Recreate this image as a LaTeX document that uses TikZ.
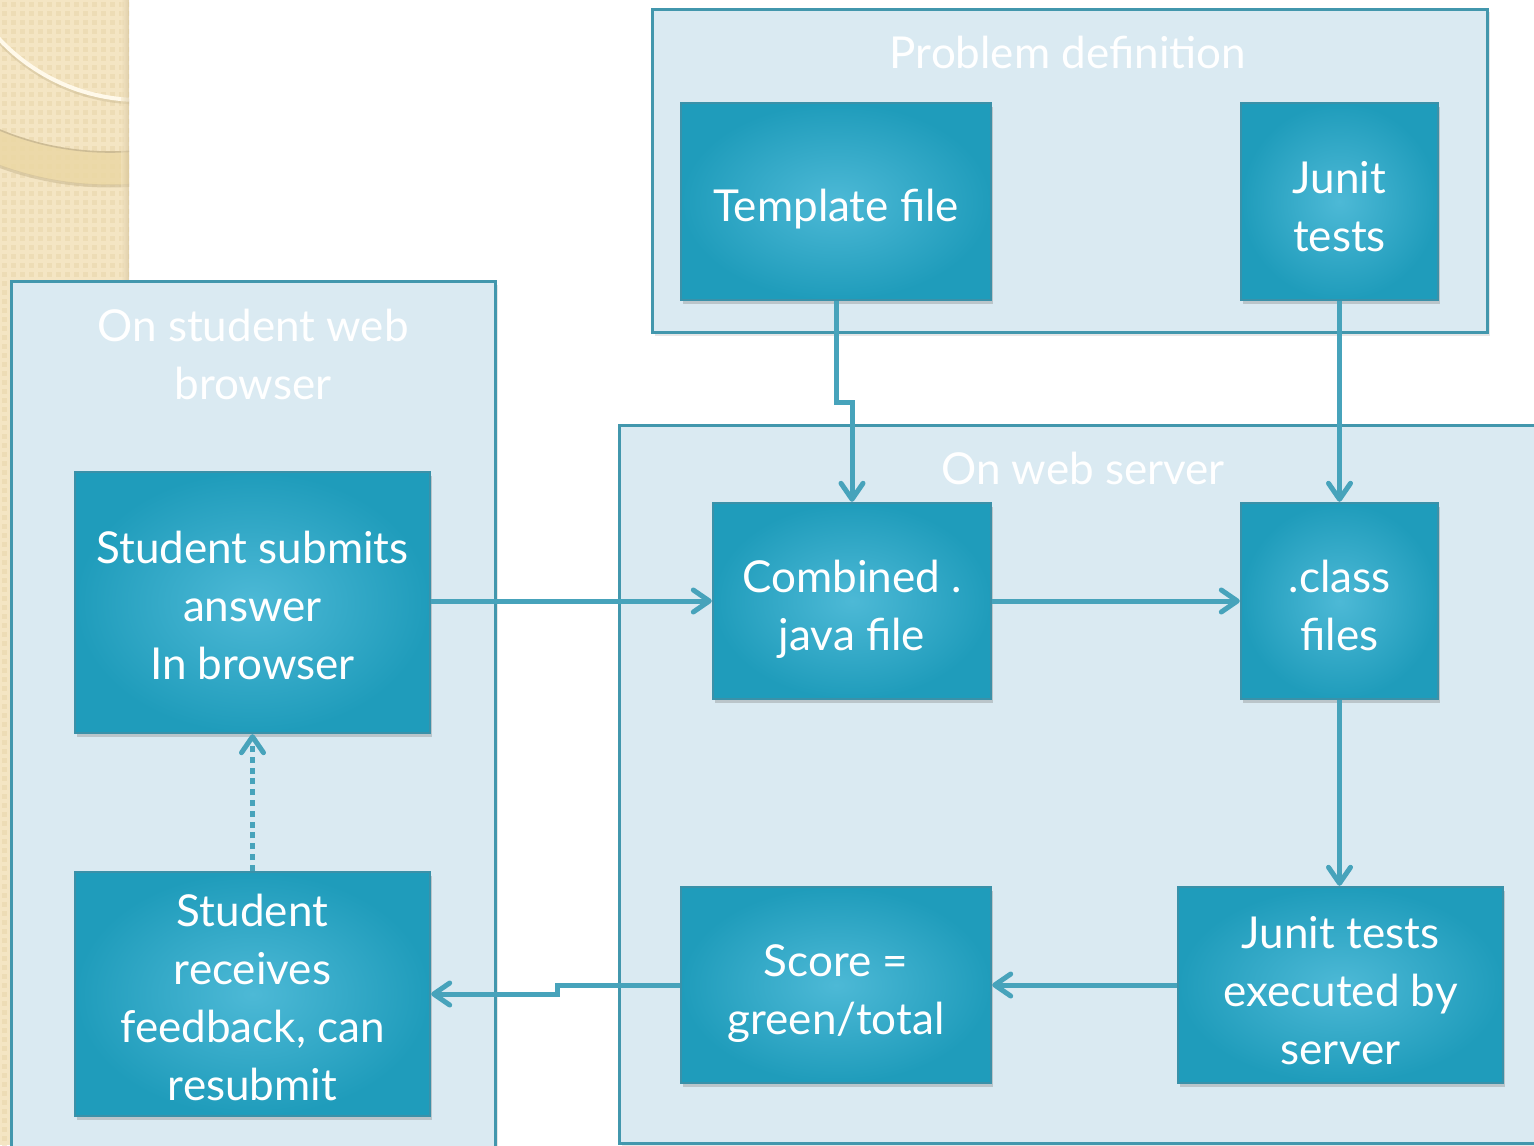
\documentclass[tikz,border=0pt]{standalone}
\usepackage{fontspec}
\setmainfont{Lato}
\usetikzlibrary{arrows.meta,shadows}

\definecolor{stripbg}{HTML}{F4E5C3}
\definecolor{stripdot}{HTML}{E9D6AB}
\definecolor{ringband}{HTML}{EBD7A3}
\definecolor{ringedge}{HTML}{CDBC95}
\definecolor{ringlight}{HTML}{FFF9EA}
\definecolor{grpfill}{HTML}{DAEAF2}
\definecolor{grpline}{HTML}{4297AD}
\definecolor{boxin}{HTML}{4DB9D6}
\definecolor{boxout}{HTML}{1F9CBB}
\definecolor{boxline}{HTML}{3A91A9}
\definecolor{arrcol}{HTML}{47A3BB}

% centred lines of box text, set a little below the geometric middle
\newcommand\boxlines[2][3pt]{%
  \raisebox{-#1}[\height][\depth]{\begin{tabular}{@{}c@{}}#2\end{tabular}}}

\tikzset{
  group/.style={draw=grpline, line width=1.5pt, fill=grpfill, anchor=north west,
    inner sep=0pt, drop shadow={opacity=0.2, shadow xshift=1pt, shadow yshift=-1.5pt}},
  gtitle/.style={text=white, align=center, font=\fontsize{22}{29}\selectfont},
  tbox/.style={draw=boxline, line width=1.2pt, inner color=boxin, outer color=boxout,
    text=white, inner sep=0pt, font=\fontsize{22}{29}\selectfont,
    drop shadow={opacity=0.35, shadow xshift=1pt, shadow yshift=-2pt}},
  conn/.style={draw=arrcol, line width=2.5pt,
    -{Straight Barb[length=8pt, width=11pt, line cap=round, line join=round]}},
  dotconn/.style={conn, dash pattern=on 3pt off 2.4pt},
}

\begin{document}
\begin{tikzpicture}[x=0.5pt, y=-0.5pt]
\useasboundingbox (0,0) rectangle (1534,1145);

% decorative beige strip on the left edge
\begin{scope}
  \clip (0,0) rectangle (129,1145);
  \fill[stripbg] (0,0) rectangle (129,1145);
  \foreach \i in {0,...,14}
    \foreach \j in {0,...,127}
      \fill[stripdot, opacity=0.55] (\i*9+2, \j*9+2) rectangle ++(5,5);
  % wide ring band
  \fill[ringband, opacity=0.8, even odd rule]
    (110,-134) circle[radius=319] (110,-134) circle[radius=286];
  \draw[ringedge, line width=0.8pt] (110,-134) circle[radius=286];
  \draw[ringedge, opacity=0.6, line width=1.5pt] (110,-134) circle[radius=320];
  % thin light ring
  \draw[ringedge, opacity=0.5, line width=2.5pt] (140,-91) circle[radius=193];
  \draw[ringlight, line width=2pt] (140,-93) circle[radius=193];
  % soft shade along the right edge of the strip
  \shade[left color=stripbg, right color=ringedge, opacity=0.5] (121,0) rectangle (129,1145);
\end{scope}

% group frames
\node[group, minimum width=417.5pt, minimum height=161.5pt] (pdef) at (651,8) {};
\node[group, minimum width=242pt, minimum height=450pt] (client) at (10,280) {};
\node[group, minimum width=466pt, minimum height=359pt] (server) at (618,424) {};

\node[gtitle] (pdeft) at (1068,52) {Problem definition};
\node[gtitle] (clientt) at (253,354) {On student web\\browser};
\node[gtitle] (servert) at (1083,468) {On web server};

% process boxes
\node[tbox, minimum width=155pt, minimum height=98.5pt] (tpl) at (836,201.5) {\boxlines[4pt]{Template file}};
\node[tbox, minimum width=98.5pt, minimum height=98.5pt] (jut) at (1339.5,201.5) {\boxlines[4.5pt]{Junit\\tests}};
\node[tbox, minimum width=177.5pt, minimum height=130.5pt] (sub) at (252.5,602.5) {\boxlines[3.5pt]{Student submits\\answer\\In browser}};
\node[tbox, minimum width=139pt, minimum height=98pt] (cmb) at (852,601) {\boxlines[4.5pt]{Combined .\\java file}};
\node[tbox, minimum width=98.5pt, minimum height=98pt] (cls) at (1339.5,601) {\boxlines[4.5pt]{.class\\files}};
\node[tbox, minimum width=177.5pt, minimum height=122pt] (rcv) at (252.5,994) {\boxlines[4pt]{Student\\receives\\feedback, can\\resubmit}};
\node[tbox, minimum width=155pt, minimum height=98pt] (sco) at (836,985) {\boxlines[4.5pt]{Score =\\green/total}};
\node[tbox, minimum width=162.5pt, minimum height=98pt] (exe) at (1340.5,985) {\boxlines[5pt]{Junit tests\\executed by\\server}};

% connectors
\coordinate (bendA) at (0,402);
\coordinate (bendB) at (557,0);
\draw[conn] (tpl.south) -- (tpl.south |- bendA) -- (cmb.north |- bendA) -- (cmb.north);
\draw[conn] (jut.south) -- (cls.north);
\draw[conn] (sub.east |- cmb.west) -- (cmb.west);
\draw[conn] (cmb.east) -- (cls.west);
\draw[conn] (cls.south) -- (cls.south |- exe.north);
\draw[conn] (exe.west) -- (sco.east);
\draw[conn] (sco.west) -- (bendB |- sco.west) -- (bendB |- rcv.east) -- (rcv.east);
\draw[dotconn] (rcv.north) -- (sub.south);
\end{tikzpicture}
\end{document}
